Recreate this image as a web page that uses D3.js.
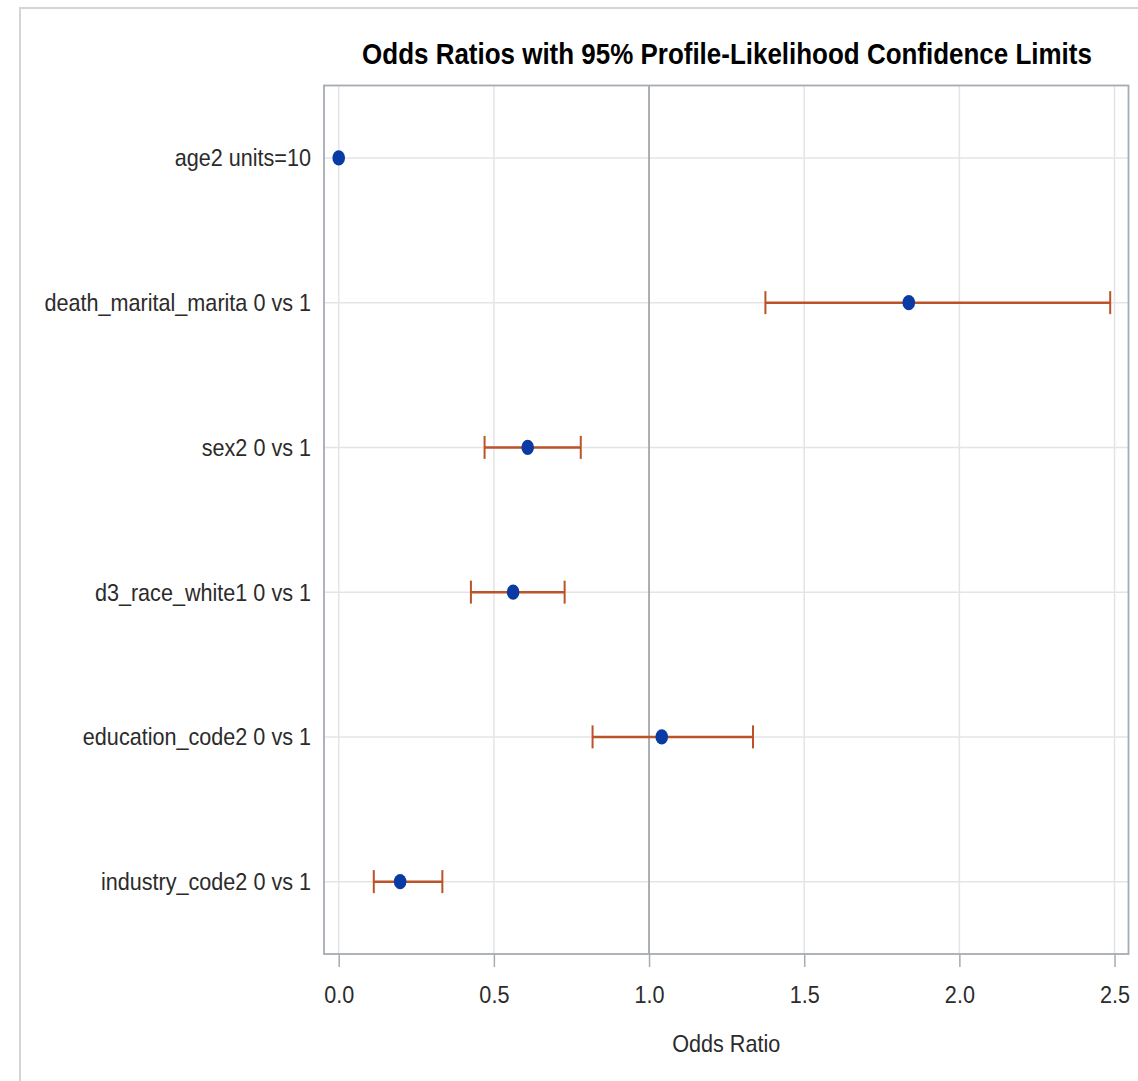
<!DOCTYPE html>
<html>
<head>
<meta charset="utf-8">
<script src="https://cdn.jsdelivr.net/npm/d3@7"></script>
<style>
  html, body { margin: 0; padding: 0; background: #fff; }
  svg { display: block; }
</style>
</head>
<body>
<script>
// ---- data ----
const categories = [
  "age2 units=10",
  "death_marital_marita 0 vs 1",
  "sex2 0 vs 1",
  "d3_race_white1 0 vs 1",
  "education_code2 0 vs 1",
  "industry_code2 0 vs 1"
];
const oddsRatio = [0.0, 1.837, 0.609, 0.562, 1.041, 0.198];
const lowerCL   = [null, 1.375, 0.470, 0.426, 0.818, 0.113];
const upperCL   = [null, 2.486, 0.780, 0.728, 1.335, 0.334];
const xTicks = [0.0, 0.5, 1.0, 1.5, 2.0, 2.5];
const xTickLabels = ["0.0", "0.5", "1.0", "1.5", "2.0", "2.5"];
const titleText = "Odds Ratios with 95% Profile-Likelihood Confidence Limits";
const xAxisTitle = "Odds Ratio";
const refValue = 1.0;

// ---- layout ----
const W = 1138, H = 1081;
const plot = { left: 324, top: 85.5, right: 1128.5, bottom: 954 };
const font = "'Liberation Sans', Arial, sans-serif";
const squeeze = 0.9;

const svg = d3.select("body").append("svg")
  .attr("width", W).attr("height", H);

// outer frame
svg.append("rect")
  .attr("x", 20).attr("y", 8).attr("width", W + 20).attr("height", H + 20)
  .attr("fill", "none").attr("stroke", "#d4d4d4").attr("stroke-width", 2);

const x = d3.scaleLinear().domain([-0.0474, 2.545]).range([plot.left, plot.right]);
const y = d3.scalePoint().domain(categories).range([plot.top, plot.bottom]).padding(0.5);

// vertical grid lines
svg.append("g").selectAll("line").data(xTicks).join("line")
  .attr("x1", d => x(d)).attr("x2", d => x(d))
  .attr("y1", plot.top).attr("y2", plot.bottom)
  .attr("stroke", "#e4e4e4").attr("stroke-width", 1.5);

// horizontal grid lines
svg.append("g").selectAll("line").data(categories).join("line")
  .attr("x1", plot.left).attr("x2", plot.right)
  .attr("y1", d => y(d)).attr("y2", d => y(d))
  .attr("stroke", "#e4e4e4").attr("stroke-width", 1.5);

// reference line
svg.append("line")
  .attr("x1", x(refValue)).attr("x2", x(refValue))
  .attr("y1", plot.top).attr("y2", plot.bottom)
  .attr("stroke", "#a4a8ac").attr("stroke-width", 1.8);

// plot frame
svg.append("rect")
  .attr("x", plot.left).attr("y", plot.top)
  .attr("width", plot.right - plot.left).attr("height", plot.bottom - plot.top)
  .attr("fill", "none").attr("stroke", "#a6acb2").attr("stroke-width", 1.8);

// x axis
const xAxis = svg.append("g")
  .attr("transform", `translate(0,${plot.bottom})`)
  .call(d3.axisBottom(x).tickValues(xTicks).tickFormat((d, i) => xTickLabels[i]).tickSize(13).tickSizeOuter(0));
xAxis.select(".domain").remove();
xAxis.selectAll(".tick line").attr("stroke", "#a6acb2").attr("stroke-width", 1.5);
xAxis.selectAll(".tick text")
  .attr("y", 49).attr("dy", null)
  .attr("transform", `scale(${squeeze},1)`)
  .attr("fill", "#2b2b2b").style("font-family", font).style("font-size", "24px");

// y labels
svg.append("g").selectAll("text").data(categories).join("text")
  .attr("transform", d => `translate(311,${y(d)}) scale(${squeeze},1)`)
  .attr("dy", "0.35em")
  .attr("text-anchor", "end")
  .attr("fill", "#2b2b2b")
  .style("font-family", font).style("font-size", "24px")
  .text(d => d);

// error bars
const ebColor = "#bb5228";
const rows = categories.map((c, i) => ({ c, or: oddsRatio[i], lo: lowerCL[i], hi: upperCL[i] }))
  .filter(r => r.lo != null && r.hi != null);
const eb = svg.append("g");
eb.selectAll("line.bar").data(rows).join("line").attr("class", "bar")
  .attr("x1", d => x(d.lo)).attr("x2", d => x(d.hi))
  .attr("y1", d => y(d.c)).attr("y2", d => y(d.c))
  .attr("stroke", ebColor).attr("stroke-width", 2.5);
eb.selectAll("line.capl").data(rows).join("line").attr("class", "capl")
  .attr("x1", d => x(d.lo)).attr("x2", d => x(d.lo))
  .attr("y1", d => y(d.c) - 11.5).attr("y2", d => y(d.c) + 11.5)
  .attr("stroke", ebColor).attr("stroke-width", 2);
eb.selectAll("line.caph").data(rows).join("line").attr("class", "caph")
  .attr("x1", d => x(d.hi)).attr("x2", d => x(d.hi))
  .attr("y1", d => y(d.c) - 11.5).attr("y2", d => y(d.c) + 11.5)
  .attr("stroke", ebColor).attr("stroke-width", 2);

// points
svg.append("g").selectAll("ellipse").data(categories).join("ellipse")
  .attr("cx", (d, i) => x(oddsRatio[i]))
  .attr("cy", d => y(d))
  .attr("rx", 6.3).attr("ry", 7.6)
  .attr("fill", "#0a3aa3");

// title: fit to the reference width by horizontal scaling
const title = svg.append("text")
  .attr("text-anchor", "middle")
  .attr("fill", "#000")
  .style("font-family", font).style("font-size", "29px").style("font-weight", "bold")
  .text(titleText);
const natural = title.node().getComputedTextLength();
const tScale = Math.min(1, 730 / natural);
title.attr("transform", `translate(727,64) scale(${tScale},1)`);

// x axis title
svg.append("text")
  .attr("transform", `translate(${(plot.left + plot.right) / 2},1052) scale(${squeeze},1)`)
  .attr("text-anchor", "middle")
  .attr("fill", "#2b2b2b")
  .style("font-family", font).style("font-size", "24px")
  .text(xAxisTitle);
</script>
</body>
</html>
